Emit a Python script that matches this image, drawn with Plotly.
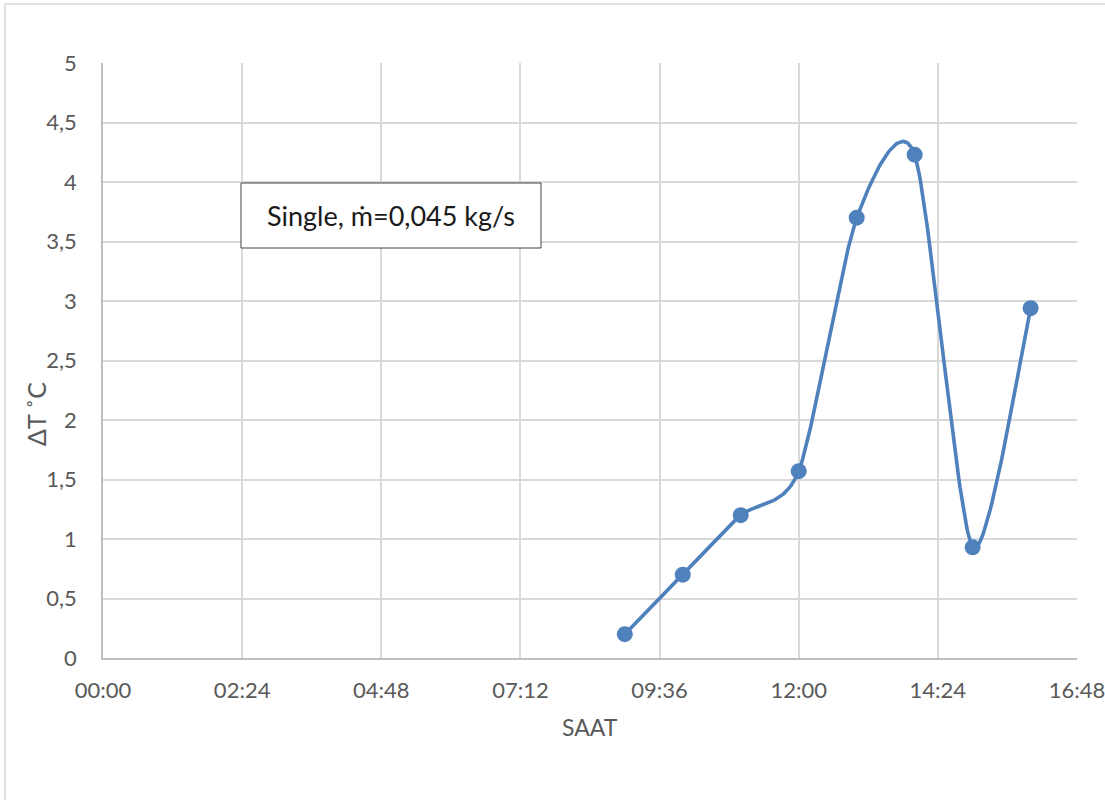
import numpy as np
import pandas as pd
import plotly.graph_objects as go

# Measurement times (hh:mm) and temperature difference ΔT (°C)
times = ["09:00", "10:00", "11:00", "12:00", "13:00", "14:00", "15:00", "16:00"]
delta_t = [0.20, 0.70, 1.20, 1.57, 3.70, 4.23, 0.93, 2.94]

y_ticks = [0, 0.5, 1, 1.5, 2, 2.5, 3, 3.5, 4, 4.5, 5]
x_tick_labels = ["00:00", "02:24", "04:48", "07:12", "09:36", "12:00", "14:24", "16:48"]

day = pd.Timestamp("2000-01-01")
x_dt = [day + pd.Timedelta(t + ":00") for t in times]
x_ticks = [day + pd.Timedelta(t + ":00") for t in x_tick_labels]


def smooth_curve(xs, ys, tension=0.75, steps=50):
    """Cardinal-spline smoothing through every point, drawn as cubic Beziers."""
    pts = np.column_stack([xs, ys]).astype(float)
    n = len(pts)
    out = [pts[0]]
    arm = tension / 6.0
    for i in range(n - 1):
        p0 = pts[max(i - 1, 0)]
        p1, p2 = pts[i], pts[i + 1]
        p3 = pts[min(i + 2, n - 1)]
        c1 = p1 + (p2 - p0) * arm
        c2 = p2 - (p3 - p1) * arm
        t = np.linspace(0, 1, steps + 1)[1:, None]
        seg = ((1 - t) ** 3) * p1 + 3 * ((1 - t) ** 2) * t * c1 \
            + 3 * (1 - t) * t ** 2 * c2 + t ** 3 * p2
        out.extend(seg)
    out = np.array(out)
    return out[:, 0], out[:, 1]


hours = np.array([(x - day) / pd.Timedelta(hours=1) for x in x_dt])
cx, cy = smooth_curve(hours, delta_t)
curve_x = [day + pd.Timedelta(hours=float(h)) for h in cx]

W, H = 1105, 800
L, R, T, B = 103, 28, 63, 142
pw, ph = W - L - R, H - T - B

BLUE = "#4f81bd"
GRID = "#d9d9d9"
TXT = "#595959"
FONT = "Lato"
FS = 22

fig = go.Figure()
fig.add_trace(go.Scatter(
    x=curve_x, y=cy, mode="lines",
    line=dict(color=BLUE, width=3.6),
    hoverinfo="skip", showlegend=False,
))
fig.add_trace(go.Scatter(
    x=x_dt, y=delta_t, mode="markers",
    marker=dict(color=BLUE, size=16),
    showlegend=False,
))


def px_x(p):
    return (p - L) / pw


def px_y(p):
    return (H - B - p) / ph


fig.update_layout(
    width=W, height=H,
    margin=dict(l=L, r=R, t=T, b=B),
    paper_bgcolor="white", plot_bgcolor="white",
    separators=", ",
    font=dict(family=FONT, size=FS, color=TXT),
    xaxis=dict(
        type="date",
        range=[x_ticks[0], x_ticks[-1]],
        tickvals=x_ticks, ticktext=x_tick_labels,
        showgrid=True, gridcolor=GRID, gridwidth=1.5,
        showline=True, linecolor="#bfbfbf", linewidth=1.5,
        ticks="", ticklabelstandoff=12,
        ticklabeloverflow="allow",
        tickfont=dict(family=FONT, size=FS, color=TXT),
        automargin=False, zeroline=False,
    ),
    yaxis=dict(
        range=[0, 5],
        tickvals=y_ticks,
        tickformat=".1~f",
        showgrid=True, gridcolor=GRID, gridwidth=1.5,
        showline=True, linecolor="#bfbfbf", linewidth=1.5,
        ticks="", ticklabelstandoff=20,
        tickfont=dict(family=FONT, size=FS, color=TXT),
        automargin=False, zeroline=False,
    ),
    shapes=[
        # chart frame
        dict(type="rect", xref="paper", yref="paper",
             x0=px_x(5), x1=px_x(1140), y0=px_y(840), y1=px_y(4),
             line=dict(color=GRID, width=1.5), fillcolor="rgba(0,0,0,0)", layer="below"),
        # label box
        dict(type="rect", xref="paper", yref="paper",
             x0=px_x(241), x1=px_x(541), y0=px_y(248), y1=px_y(183),
             line=dict(color="#404040", width=1), fillcolor="white", layer="above"),
    ],
    annotations=[
        dict(text="Single, ṁ=0,045 kg/s", xref="paper", yref="paper",
             x=px_x(391), y=px_y(215.5), showarrow=False,
             xanchor="center", yanchor="middle",
             font=dict(family=FONT, size=27, color="#1a1a1a")),
        dict(text="SAAT", xref="paper", yref="paper",
             x=px_x(590), y=px_y(727), showarrow=False,
             xanchor="center", yanchor="middle",
             font=dict(family=FONT, size=23, color=TXT)),
        dict(text="ΔT ˚C", xref="paper", yref="paper",
             x=px_x(36), y=px_y(414), showarrow=False, textangle=-90,
             xanchor="center", yanchor="middle",
             font=dict(family=FONT, size=25, color=TXT)),
    ],
)

fig.write_html("out.html")
